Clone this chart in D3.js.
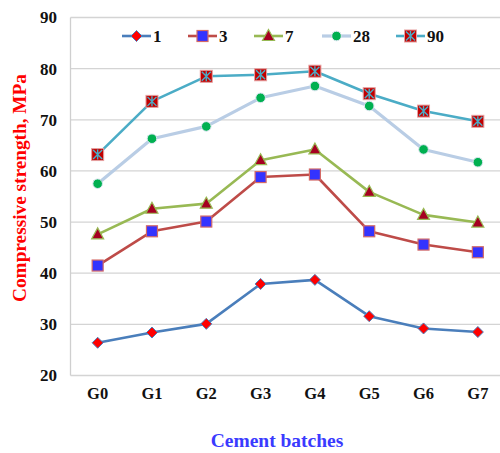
<!DOCTYPE html>
<html><head><meta charset="utf-8">
<script src="https://cdn.jsdelivr.net/npm/d3@7"></script>
<style>body{margin:0;background:#fff}svg{display:block}</style>
</head><body>
<svg id="c" width="500" height="453"></svg>
<script>
const categories = ["G0","G1","G2","G3","G4","G5","G6","G7"];
const seriesNames = ["1","3","7","28","90"];
const s1  = [26.4, 28.4, 30.1, 37.9, 38.7, 31.6, 29.2, 28.5];
const s3  = [41.5, 48.2, 50.1, 58.8, 59.3, 48.2, 45.6, 44.1];
const s7  = [47.6, 52.6, 53.6, 62.1, 64.2, 55.9, 51.4, 49.9];
const s28 = [57.5, 66.3, 68.7, 74.3, 76.6, 72.7, 64.2, 61.7];
const s90 = [63.2, 73.6, 78.5, 78.8, 79.5, 75.1, 71.7, 69.7];
const yTicks = [20,30,40,50,60,70,80,90];

const seriesValues = [s1, s3, s7, s28, s90];
const styles = [
  {line:"#4a7ebb", marker:"diamond", fill:"#ff0000", stroke:"#4a7ebb"},
  {line:"#be4b48", marker:"square", fill:"#3333ff", stroke:"#d46a67"},
  {line:"#98b954", marker:"triangle", fill:"#a50021", stroke:"#98b954"},
  {line:"#b9cde5", marker:"circle", fill:"#00b050", stroke:"#dce6f2"},
  {line:"#4bacc6", marker:"star", fill:"#c00000", stroke:"#e6a0a0"}
];

const svg = d3.select("#c");
const font = "'Liberation Serif','Times New Roman',serif";
const x = d3.scaleBand().domain(categories).range([70.5, 505]);
const y = d3.scaleLinear().domain([20, 90]).range([375.5, 17.5]);

// gridlines
svg.append("g").selectAll("line").data(yTicks).join("line")
  .attr("x1", 70.5).attr("x2", 505)
  .attr("y1", d => y(d)).attr("y2", d => y(d))
  .attr("stroke", "#d4d4d4").attr("stroke-width", 1.3);
// left axis line
svg.append("line").attr("x1", 70.5).attr("x2", 70.5).attr("y1", y(90)).attr("y2", y(20))
  .attr("stroke", "#cfcfcf").attr("stroke-width", 1.3);

// y tick labels
svg.append("g").selectAll("text").data(yTicks).join("text")
  .attr("x", 57).attr("y", d => y(d)).attr("dy", "0.35em")
  .attr("text-anchor", "end").attr("font-family", font).attr("font-weight", "bold")
  .attr("font-size", 17).attr("fill", "#111").text(d => d);
// x tick labels
svg.append("g").selectAll("text").data(categories).join("text")
  .attr("x", d => x(d) + x.bandwidth()/2).attr("y", 399)
  .attr("text-anchor", "middle").attr("font-family", font).attr("font-weight", "bold")
  .attr("font-size", 16.5).attr("fill", "#111").text(d => d);

// axis titles
svg.append("text").attr("transform", "translate(26,188) rotate(-90)")
  .attr("text-anchor", "middle").attr("font-family", font).attr("font-weight", "bold")
  .attr("font-size", 19.3).attr("fill", "#ff0000").text("Compressive strength, MPa");
svg.append("text").attr("x", 277).attr("y", 447)
  .attr("text-anchor", "middle").attr("font-family", font).attr("font-weight", "bold")
  .attr("font-size", 19.5).attr("fill", "#3a3aff").text("Cement batches");

function drawMarker(g, st, cx, cy) {
  if (st.marker === "diamond") {
    g.append("path").attr("d", `M${cx},${cy-5.5}L${cx+5.5},${cy}L${cx},${cy+5.5}L${cx-5.5},${cy}Z`)
      .attr("fill", st.fill).attr("stroke", st.stroke).attr("stroke-width", 1);
  } else if (st.marker === "square") {
    g.append("rect").attr("x", cx-5.5).attr("y", cy-5.5).attr("width", 11).attr("height", 11)
      .attr("fill", st.fill).attr("stroke", st.stroke).attr("stroke-width", 1.2);
  } else if (st.marker === "triangle") {
    g.append("path").attr("d", `M${cx},${cy-6.5}L${cx+6},${cy+4.5}L${cx-6},${cy+4.5}Z`)
      .attr("fill", st.fill).attr("stroke", st.stroke).attr("stroke-width", 1.2);
  } else if (st.marker === "circle") {
    g.append("circle").attr("cx", cx).attr("cy", cy).attr("r", 4.8)
      .attr("fill", st.fill).attr("stroke", st.stroke).attr("stroke-width", 1);
  } else {
    g.append("rect").attr("x", cx-6).attr("y", cy-6).attr("width", 12).attr("height", 12)
      .attr("fill", st.fill).attr("stroke", st.stroke).attr("stroke-width", 1);
    const r = 4.5;
    g.append("path").attr("d", `M${cx-r},${cy-r}L${cx+r},${cy+r}M${cx+r},${cy-r}L${cx-r},${cy+r}M${cx},${cy-5}L${cx},${cy+5}`)
      .attr("stroke", "#4bacc6").attr("stroke-width", 1.4).attr("fill", "none");
  }
}

const line = d3.line().x((d, i) => x(categories[i]) + x.bandwidth()/2).y(d => y(d));
seriesValues.forEach((vals, k) => {
  const st = styles[k];
  svg.append("path").datum(vals).attr("d", line).attr("fill", "none")
    .attr("stroke", st.line).attr("stroke-width", k === 3 ? 3.2 : 2.6).attr("stroke-linejoin", "round");
});
seriesValues.forEach((vals, k) => {
  const g = svg.append("g");
  vals.forEach((v, i) => drawMarker(g, styles[k], x(categories[i]) + x.bandwidth()/2, y(v)));
});

// legend
const legendX = [122, 188, 254, 322, 396];
seriesNames.forEach((name, k) => {
  const st = styles[k];
  const g = svg.append("g");
  const lx = legendX[k], ly = 36;
  g.append("line").attr("x1", lx).attr("x2", lx + 29).attr("y1", ly).attr("y2", ly)
    .attr("stroke", st.line).attr("stroke-width", k === 3 ? 3.2 : 2.6);
  drawMarker(g, st, lx + 14.5, ly);
  g.append("text").attr("x", lx + 31).attr("y", ly).attr("dy", "0.35em")
    .attr("font-family", font).attr("font-weight", "bold").attr("font-size", 17)
    .attr("fill", "#111").text(name);
});
</script>
</body></html>
